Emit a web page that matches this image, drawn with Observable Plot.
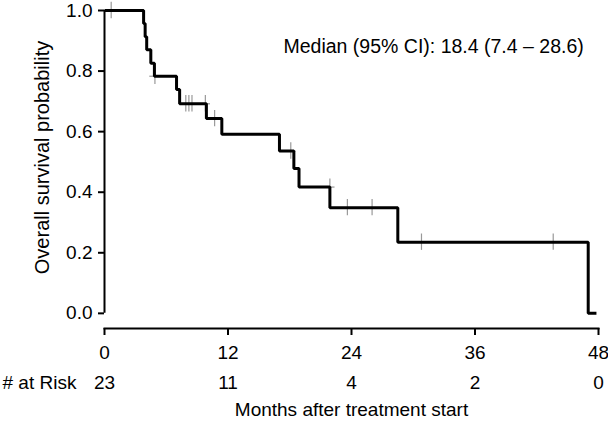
<!DOCTYPE html>
<html><head><meta charset="utf-8">
<script src="https://cdn.jsdelivr.net/npm/d3@7"></script>
<script src="https://cdn.jsdelivr.net/npm/@observablehq/plot@0.6"></script>
<style>html,body{margin:0;padding:0;background:#fff} svg{display:block}</style>
</head><body><div id="chart"></div>
<script>
// Kaplan–Meier step curve (months, survival probability)
const stepTimes = [0, 3.8, 3.95, 4.1, 4.5, 4.85, 7.0, 7.3, 9.9, 11.4, 17.0, 18.4, 18.9, 21.9, 28.5, 47.0, 47.8];
const stepSurv  = [1, 0.957, 0.913, 0.870, 0.826, 0.783, 0.739, 0.692, 0.643, 0.591, 0.536, 0.478, 0.417, 0.349, 0.235, 0, 0];
// censoring marks
const censorTimes = [0.65, 4.9, 7.9, 8.2, 8.5, 9.8, 10.7, 18.1, 21.9, 23.6, 26.0, 30.8, 43.6];
const censorSurv  = [1, 0.783, 0.692, 0.692, 0.692, 0.692, 0.643, 0.536, 0.417, 0.349, 0.349, 0.235, 0.235];
// axes and risk table
const xTicks = [0, 12, 24, 36, 48];
const yTicks = [0, 0.2, 0.4, 0.6, 0.8, 1.0];
const atRisk = [23, 11, 4, 2, 0];
const medianLabel = "Median (95% CI): 18.4 (7.4 – 28.6)";
const yLabel = "Overall survival probability";
const xLabel = "Months after treatment start";
const riskLabel = "# at Risk";

const curve = stepTimes.map((t, i) => ({t, s: stepSurv[i]}));
const censor = censorTimes.map((t, i) => ({t, s: censorSurv[i]}));
const risk = xTicks.map((t, i) => ({t, n: atRisk[i]}));

const FS = 19;
const chart = Plot.plot({
  width: 608,
  height: 421,
  marginLeft: 104,
  marginRight: 10,
  marginTop: 10,
  marginBottom: 93,
  style: {fontFamily: "'Liberation Sans', Arial, Helvetica, sans-serif", fontSize: FS + "px", background: "#fff", color: "#000"},
  x: {domain: [0, 48]},
  y: {domain: [-0.05, 1]},
  marks: [
    Plot.frame({anchor: "bottom", strokeWidth: 2}),
    Plot.ruleX([0], {y1: 0, y2: 1, strokeWidth: 2}),
    Plot.axisY(yTicks, {tickFormat: d3.format(".1f"), tickSize: 6, tickPadding: 6, strokeWidth: 2, fontSize: FS, label: null}),
    Plot.axisX(xTicks, {tickSize: 7, tickPadding: 10, strokeWidth: 2, fontSize: FS, label: null}),
    Plot.ruleX(censor, {x: "t", y1: d => d.s - 0.027, y2: d => d.s + 0.027, stroke: "#999", strokeWidth: 1.2}),
    Plot.ruleY(censor, {y: "s", x1: d => d.t - 0.5, x2: d => d.t + 0.5, stroke: "#999", strokeWidth: 1.2}),
    Plot.line(curve, {x: "t", y: "s", curve: "step-after", stroke: "#000", strokeWidth: 3, strokeLinejoin: "miter", strokeLinecap: "butt"}),
    Plot.text([medianLabel], {frameAnchor: "top-left", textAnchor: "start", dx: 179, dy: 29, fontSize: 19.5}),
    Plot.text(risk, {x: "t", text: "n", frameAnchor: "bottom", dy: 60, fontSize: FS}),
    Plot.text([riskLabel], {frameAnchor: "bottom-left", textAnchor: "start", dx: -102, dy: 60, fontSize: FS}),
    Plot.text([xLabel], {frameAnchor: "bottom", dy: 87, fontSize: FS}),
    Plot.text([yLabel], {frameAnchor: "left", textAnchor: "middle", rotate: -90, dx: -62, dy: -12, fontSize: 20})
  ]
});
document.getElementById("chart").appendChild(chart);
</script>
</body></html>
